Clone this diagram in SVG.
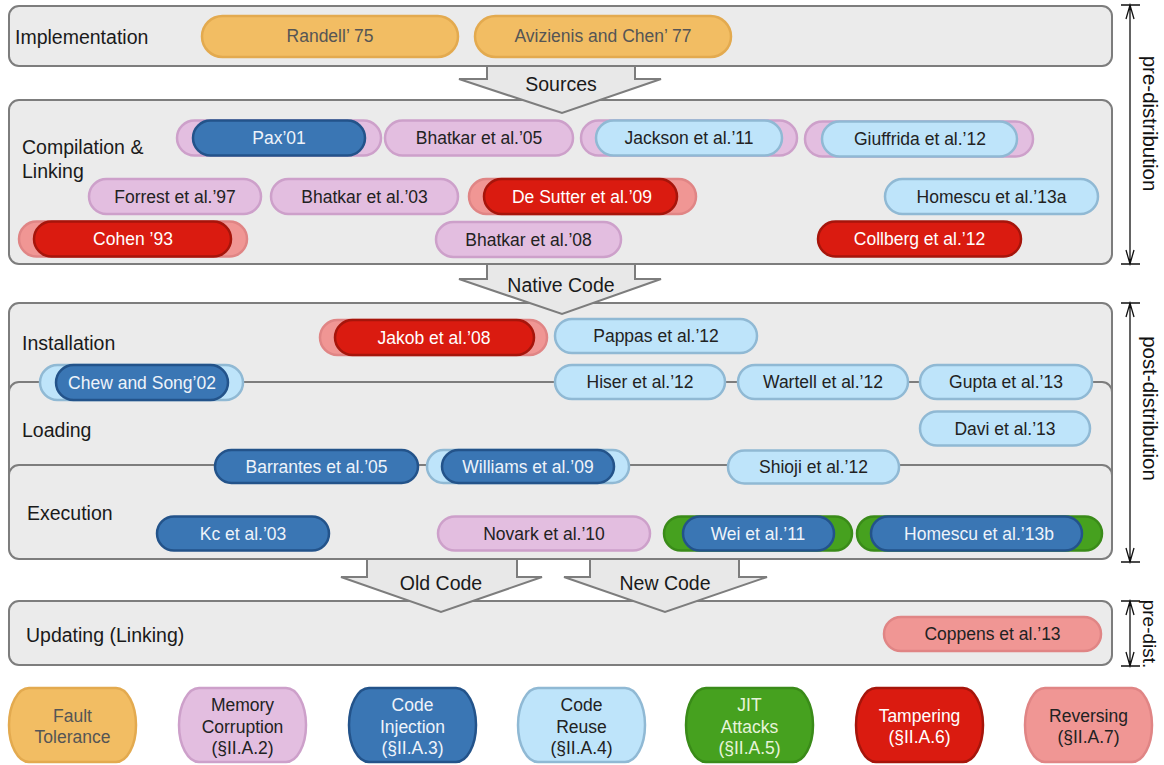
<svg xmlns="http://www.w3.org/2000/svg" width="1164" height="765" viewBox="0 0 1164 765">
<defs>
<style>
text{font-family:"Liberation Sans",Arial,sans-serif;}
.panel{fill:#ebebeb;stroke:#7d7d7d;stroke-width:2;}
.plabel{font-size:19.5px;fill:#1a1a1a;}
.arrow{fill:#e8e8e8;stroke:#7d7d7d;stroke-width:2;stroke-linejoin:miter;}
.alabel{font-size:19.5px;fill:#1a1a1a;text-anchor:middle;}
.pt{font-size:17.5px;text-anchor:middle;}
.ft{fill:#f2bd63;stroke:#e3aa4f;stroke-width:2.5;}
.mc{fill:#e3bee0;stroke:#cda0ca;stroke-width:2.5;}
.ci{fill:#3a76b4;stroke:#23538a;stroke-width:2.5;}
.cr{fill:#bee4fa;stroke:#90b9d4;stroke-width:2.5;}
.jit{fill:#46a11f;stroke:#3a8b19;stroke-width:2.5;}
.tp{fill:#da1b10;stroke:#a6150b;stroke-width:2.5;}
.rv{fill:#f09694;stroke:#e08585;stroke-width:2.5;}
.tft{fill:#555;}
.tdk{fill:#222;}
.tlt{fill:#eef3fa;}
.tjit{fill:#e6f4da;}
.tw{fill:#fff;}
.brk{stroke:#111;stroke-width:1.3;fill:none;}
.side{font-size:20.5px;fill:#111;text-anchor:middle;}
</style>
</defs>

<g id="panels">
<g id="panel-implementation"><rect class="panel" x="9" y="6" width="1103" height="60" rx="10"/><text class="plabel" x="15" y="44">Implementation</text></g>
<g id="panel-compilation"><rect class="panel" x="9" y="100" width="1103" height="164" rx="10"/><text class="plabel" x="22" y="154">Compilation &amp;</text><text class="plabel" x="22" y="178">Linking</text></g>
<g id="panel-installation"><rect class="panel" x="9" y="303" width="1103" height="170" rx="10"/><text class="plabel" x="22" y="350">Installation</text></g>
<g id="panel-loading"><rect class="panel" x="9" y="382" width="1103" height="160" rx="10"/><text class="plabel" x="22" y="437">Loading</text></g>
<g id="panel-execution"><rect class="panel" x="9" y="465" width="1103" height="94" rx="10"/><text class="plabel" x="27" y="520">Execution</text></g>
<g id="panel-updating"><rect class="panel" x="9" y="601" width="1103" height="64" rx="10"/><text class="plabel" x="26" y="642">Updating (Linking)</text></g>
</g>

<g id="connectors">
<g id="arrow-sources"><polygon class="arrow" points="487,66 487,79 459,79 562,113 661,79 635,79 635,66"/><text class="alabel" x="561" y="91">Sources</text></g>
<g id="arrow-native"><polygon class="arrow" points="487,264 487,279 459,279 562,314 661,279 635,279 635,264"/><text class="alabel" x="561" y="292">Native Code</text></g>
<g id="arrow-old"><polygon class="arrow" points="367,559 367,577 341,577 441,612 542,577 517,577 517,559"/><text class="alabel" x="441" y="590">Old Code</text></g>
<g id="arrow-new"><polygon class="arrow" points="590,559 590,577 564,577 665,612 767,577 739,577 739,559"/><text class="alabel" x="665" y="590">New Code</text></g>
<g id="bracket-pre">
<path class="brk" d="M1121,5H1140M1121,264H1140M1130,5V264M1126,19L1130,5L1134,19M1126,250L1130,264L1134,250"/>
<text class="side" transform="translate(1143,123.5) rotate(90)">pre-distribution</text>
</g>
<g id="bracket-post">
<path class="brk" d="M1121,303H1140M1121,562H1140M1130,303V562M1126,317L1130,303L1134,317M1126,548L1130,562L1134,548"/>
<text class="side" transform="translate(1143,408.5) rotate(90)">post-distribution</text>
</g>
<g id="bracket-predist">
<path class="brk" d="M1121,601H1140M1121,666H1140M1130,601V666M1126,615L1130,601L1134,615M1126,652L1130,666L1134,652"/>
<text class="side" style="font-size:19px" transform="translate(1143,634) rotate(90)">pre-dist.</text>
</g>
</g>

<g id="nodes">
<g id="randell"><rect class="ft" x="202" y="16" width="256" height="41" rx="20.5"/><text class="pt tft" x="330" y="42">Randell’ 75</text></g>
<g id="avizienis"><rect class="ft" x="475" y="16" width="256" height="41" rx="20.5"/><text class="pt tft" x="603" y="42">Avizienis and Chen’ 77</text></g>

<g id="pax"><rect class="mc" x="177" y="120.5" width="204" height="35" rx="17.5"/><rect class="ci" x="193" y="120.5" width="172" height="35" rx="17.5"/><text class="pt tlt" x="279" y="144">Pax’01</text></g>
<g id="bhatkar05"><rect class="mc" x="385" y="120.5" width="188" height="35" rx="17.5"/><text class="pt tdk" x="479" y="144">Bhatkar et al.’05</text></g>
<g id="jackson"><rect class="mc" x="581" y="120.5" width="216" height="35" rx="17.5"/><rect class="cr" x="596" y="120.5" width="186" height="35" rx="17.5"/><text class="pt tdk" x="689" y="144">Jackson et al.’11</text></g>
<g id="giuffrida"><rect class="mc" x="805" y="121.5" width="228" height="35" rx="17.5"/><rect class="cr" x="822" y="121.5" width="195" height="35" rx="17.5"/><text class="pt tdk" x="920" y="145">Giuffrida et al.’12</text></g>

<g id="forrest"><rect class="mc" x="89" y="179" width="172" height="35" rx="17.5"/><text class="pt tdk" x="175" y="202.5">Forrest et al.’97</text></g>
<g id="bhatkar03"><rect class="mc" x="271" y="179" width="187" height="35" rx="17.5"/><text class="pt tdk" x="364.5" y="202.5">Bhatkar et al.’03</text></g>
<g id="desutter"><rect class="rv" x="469" y="179" width="227" height="35" rx="17.5"/><rect class="tp" x="484" y="179" width="193" height="35" rx="17.5"/><text class="pt tw" x="582" y="202.5">De Sutter et al.’09</text></g>
<g id="homescu13a"><rect class="cr" x="885" y="179" width="213" height="35" rx="17.5"/><text class="pt tdk" x="991.5" y="202.5">Homescu et al.’13a</text></g>

<g id="cohen"><rect class="rv" x="19" y="221.5" width="228" height="35" rx="17.5"/><rect class="tp" x="34" y="221.5" width="197" height="35" rx="17.5"/><text class="pt tw" x="133" y="245">Cohen ’93</text></g>
<g id="bhatkar08"><rect class="mc" x="436" y="222" width="185" height="35" rx="17.5"/><text class="pt tdk" x="528.5" y="245.5">Bhatkar et al.’08</text></g>
<g id="collberg"><rect class="tp" x="818" y="221.5" width="203" height="35" rx="17.5"/><text class="pt tw" x="919.5" y="245">Collberg et al.’12</text></g>

<g id="jakob"><rect class="rv" x="320" y="320" width="227" height="35" rx="17.5"/><rect class="tp" x="335" y="320" width="199" height="35" rx="17.5"/><text class="pt tw" x="434" y="343.5">Jakob et al.’08</text></g>
<g id="pappas"><rect class="cr" x="555" y="319" width="202" height="34" rx="17"/><text class="pt tdk" x="656" y="342">Pappas et al.’12</text></g>

<g id="chew"><rect class="cr" x="40" y="365" width="203" height="35" rx="17.5"/><rect class="ci" x="56" y="365" width="172" height="35" rx="17.5"/><text class="pt tlt" x="142" y="388.5">Chew and Song’02</text></g>
<g id="hiser"><rect class="cr" x="555" y="365" width="170" height="34" rx="17"/><text class="pt tdk" x="640" y="388">Hiser et al.’12</text></g>
<g id="wartell"><rect class="cr" x="738" y="365" width="170" height="34" rx="17"/><text class="pt tdk" x="823" y="388">Wartell et al.’12</text></g>
<g id="gupta"><rect class="cr" x="920" y="365" width="172" height="34" rx="17"/><text class="pt tdk" x="1006" y="388">Gupta et al.’13</text></g>
<g id="davi"><rect class="cr" x="920" y="411.5" width="170" height="34" rx="17"/><text class="pt tdk" x="1005" y="434.5">Davi et al.’13</text></g>

<g id="barrantes"><rect class="ci" x="215" y="450" width="203" height="33" rx="16.5"/><text class="pt tlt" x="316.5" y="472.5">Barrantes et al.’05</text></g>
<g id="williams"><rect class="cr" x="427" y="450" width="202" height="33" rx="16.5"/><rect class="ci" x="442" y="450" width="172" height="33" rx="16.5"/><text class="pt tlt" x="528" y="472.5">Williams et al.’09</text></g>
<g id="shioji"><rect class="cr" x="728" y="450.5" width="171" height="33" rx="16.5"/><text class="pt tdk" x="813.5" y="473">Shioji et al.’12</text></g>

<g id="kc"><rect class="ci" x="157" y="516.5" width="172" height="34" rx="17"/><text class="pt tlt" x="243" y="539.5">Kc et al.’03</text></g>
<g id="novark"><rect class="mc" x="438" y="516.5" width="212" height="34" rx="17"/><text class="pt tdk" x="544" y="539.5">Novark et al.’10</text></g>
<g id="wei"><rect class="jit" x="664" y="516.5" width="188" height="34" rx="17"/><rect class="ci" x="683" y="516.5" width="151" height="34" rx="17"/><text class="pt tlt" x="758" y="539.5">Wei et al.’11</text></g>
<g id="homescu13b"><rect class="jit" x="857" y="516.5" width="245" height="34" rx="17"/><rect class="ci" x="871" y="516.5" width="211" height="34" rx="17"/><text class="pt tlt" x="979" y="539.5">Homescu et al.’13b</text></g>

<g id="coppens"><rect class="rv" x="884" y="617" width="217" height="34" rx="17"/><text class="pt tdk" x="992.5" y="640">Coppens et al.’13</text></g>
</g>

<g id="legend">
<g id="lg-fault"><rect class="ft" x="9" y="688" width="127" height="74" rx="20" ry="37"/><text class="pt tft" x="72.5" y="722">Fault</text><text class="pt tft" x="72.5" y="743">Tolerance</text></g>
<g id="lg-memory"><rect class="mc" x="179" y="688" width="127" height="74" rx="20" ry="37"/><text class="pt tdk" x="242.5" y="711">Memory</text><text class="pt tdk" x="242.5" y="733">Corruption</text><text class="pt tdk" x="242.5" y="754">(§II.A.2)</text></g>
<g id="lg-injection"><rect class="ci" x="349" y="688" width="127" height="74" rx="20" ry="37"/><text class="pt tlt" x="412.5" y="711">Code</text><text class="pt tlt" x="412.5" y="733">Injection</text><text class="pt tlt" x="412.5" y="754">(§II.A.3)</text></g>
<g id="lg-reuse"><rect class="cr" x="518" y="688" width="127" height="74" rx="20" ry="37"/><text class="pt tdk" x="581.5" y="711">Code</text><text class="pt tdk" x="581.5" y="733">Reuse</text><text class="pt tdk" x="581.5" y="754">(§II.A.4)</text></g>
<g id="lg-jit"><rect class="jit" x="686" y="688" width="127" height="74" rx="20" ry="37"/><text class="pt tjit" x="749.5" y="711">JIT</text><text class="pt tjit" x="749.5" y="733">Attacks</text><text class="pt tjit" x="749.5" y="754">(§II.A.5)</text></g>
<g id="lg-tampering"><rect class="tp" x="856" y="688" width="127" height="74" rx="20" ry="37"/><text class="pt tw" x="919.5" y="722">Tampering</text><text class="pt tw" x="919.5" y="743">(§II.A.6)</text></g>
<g id="lg-reversing"><rect class="rv" x="1025" y="688" width="127" height="74" rx="20" ry="37"/><text class="pt tdk" x="1088.5" y="722">Reversing</text><text class="pt tdk" x="1088.5" y="743">(§II.A.7)</text></g>
</g>
</svg>
